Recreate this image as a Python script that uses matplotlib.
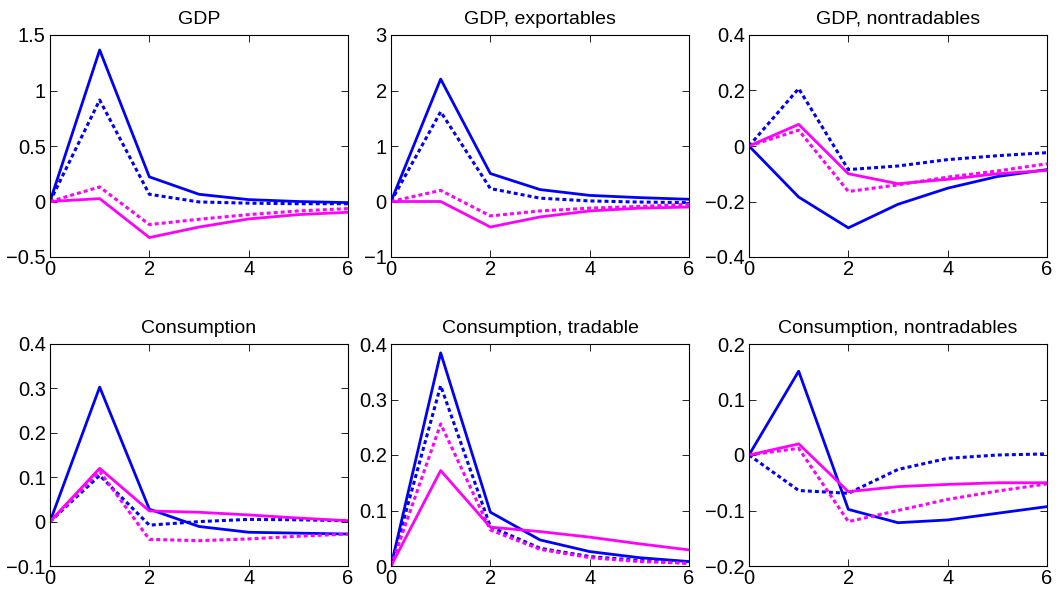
import matplotlib
matplotlib.use('Agg')
import matplotlib.pyplot as plt
import numpy as np

plt.rcParams['font.family'] = ['Liberation Sans', 'DejaVu Sans']

t = [0, 1, 2, 3, 4, 5, 6]

titles = ["GDP", "GDP, exportables", "GDP, nontradables",
          "Consumption", "Consumption, tradable", "Consumption, nontradables"]

# each panel: blue solid, blue dotted, magenta solid, magenta dotted
gdp_b = [0, 1.365, 0.222, 0.065, 0.017, 0.0, -0.01]
gdp_b_dot = [0, 0.914, 0.065, -0.004, -0.015, -0.02, -0.02]
gdp_m = [0, 0.026, -0.325, -0.23, -0.157, -0.118, -0.097]
gdp_m_dot = [0, 0.131, -0.208, -0.16, -0.118, -0.085, -0.064]

gdpx_b = [0, 2.206, 0.504, 0.215, 0.11, 0.07, 0.04]
gdpx_b_dot = [0, 1.617, 0.233, 0.06, 0.01, -0.01, -0.02]
gdpx_m = [0, 0.0, -0.46, -0.278, -0.17, -0.12, -0.1]
gdpx_m_dot = [0, 0.2, -0.26, -0.17, -0.12, -0.09, -0.05]

gdpn_b = [0, -0.184, -0.295, -0.21, -0.152, -0.11, -0.085]
gdpn_b_dot = [0, 0.207, -0.085, -0.072, -0.049, -0.035, -0.024]
gdpn_m = [0, 0.078, -0.1, -0.136, -0.12, -0.1, -0.088]
gdpn_m_dot = [0, 0.057, -0.164, -0.14, -0.112, -0.09, -0.064]

c_b = [0, 0.303, 0.028, -0.011, -0.024, -0.026, -0.028]
c_b_dot = [0, 0.104, -0.008, 0.0, 0.005, 0.004, 0.002]
c_m = [0, 0.12, 0.024, 0.021, 0.015, 0.008, 0.002]
c_m_dot = [0, 0.113, -0.04, -0.043, -0.039, -0.033, -0.028]

ct_b = [0, 0.384, 0.097, 0.047, 0.026, 0.015, 0.008]
ct_b_dot = [0, 0.325, 0.071, 0.032, 0.017, 0.01, 0.005]
ct_m = [0, 0.172, 0.07, 0.062, 0.052, 0.04, 0.029]
ct_m_dot = [0, 0.256, 0.065, 0.03, 0.015, 0.008, 0.005]

cn_b = [0, 0.151, -0.098, -0.122, -0.117, -0.105, -0.093]
cn_b_dot = [0, -0.064, -0.069, -0.026, -0.006, 0.0, 0.002]
cn_m = [0, 0.02, -0.066, -0.057, -0.053, -0.05, -0.05]
cn_m_dot = [0, 0.012, -0.12, -0.1, -0.08, -0.065, -0.052]

series = [
    (gdp_b, gdp_b_dot, gdp_m, gdp_m_dot),
    (gdpx_b, gdpx_b_dot, gdpx_m, gdpx_m_dot),
    (gdpn_b, gdpn_b_dot, gdpn_m, gdpn_m_dot),
    (c_b, c_b_dot, c_m, c_m_dot),
    (ct_b, ct_b_dot, ct_m, ct_m_dot),
    (cn_b, cn_b_dot, cn_m, cn_m_dot),
]

ylims = [(-0.5, 1.5), (-1, 3), (-0.4, 0.4), (-0.1, 0.4), (0, 0.4), (-0.2, 0.2)]
yticks = [np.arange(-0.5, 1.51, 0.5), np.arange(-1, 3.1, 1),
          np.arange(-0.4, 0.41, 0.2), np.arange(-0.1, 0.41, 0.1),
          np.arange(0, 0.41, 0.1), np.arange(-0.2, 0.21, 0.1)]

# axes boxes in pixels
lefts = [50, 391, 749]
rights = [348, 689, 1047]
tops = [35, 344]
bottoms = [257, 566]
W, H = 1058, 595

fig = plt.figure(figsize=(W / 100, H / 100), dpi=100)

blue = '#0000ff'
mag = '#ff00ff'
dot = (0, (1.3, 1.0))

for i in range(6):
    r, c = divmod(i, 3)
    ax = fig.add_axes([lefts[c] / W, 1 - bottoms[r] / H,
                       (rights[c] - lefts[c]) / W, (bottoms[r] - tops[r]) / H])
    b, bd, m, md = series[i]
    ax.plot(t, b, color=blue, lw=2)
    ax.plot(t, bd, color=blue, lw=2.2, linestyle=dot)
    ax.plot(t, m, color=mag, lw=2)
    ax.plot(t, md, color=mag, lw=2.2, linestyle=dot)
    ax.set_xlim(0, 6)
    ax.set_ylim(*ylims[i])
    ax.set_xticks([0, 2, 4, 6])
    ax.set_yticks(yticks[i])
    ax.set_yticklabels(["{:g}".format(round(v, 2)).replace("-", "\u2212") for v in yticks[i]])
    ax.tick_params(direction='in', top=True, right=True, length=5,
                   width=0.6, labelsize=14.5)
    ax.tick_params(axis='y', pad=3)
    ax.tick_params(axis='x', pad=2)
    for s in ax.spines.values():
        s.set_linewidth(0.8)
    ax.set_title(titles[i], fontsize=14, pad=8)

fig.savefig("out.png", dpi=100)
